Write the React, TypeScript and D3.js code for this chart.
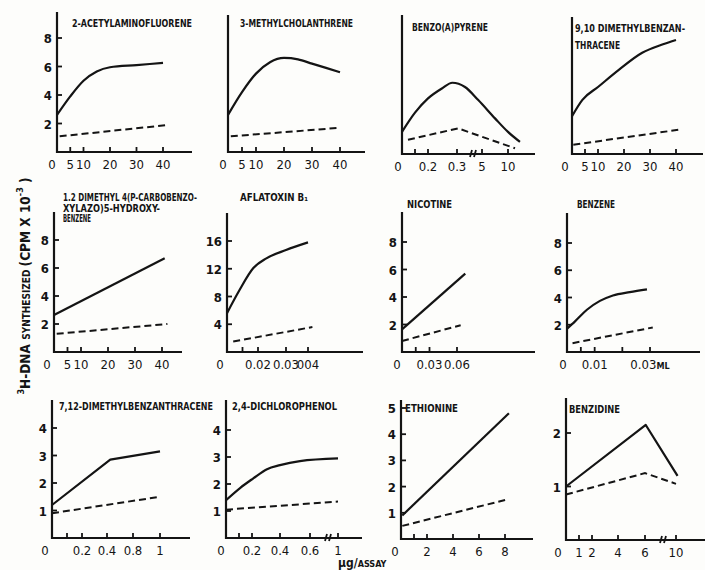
import React from "react";
import * as d3 from "d3";

// ---------- DATA ----------
const panelTitles: string[][] = [
  ["2-ACETYLAMINOFLUORENE"],
  ["3-METHYLCHOLANTHRENE"],
  ["BENZO(A)PYRENE"],
  ["9,10 DIMETHYLBENZAN-", "THRACENE"],
  ["1.2 DIMETHYL 4(P-CARBOBENZO-", "XYLAZO)5-HYDROXY-", "BENZENE"],
  ["AFLATOXIN B₁"],
  ["NICOTINE"],
  ["BENZENE"],
  ["7,12-DIMETHYLBENZANTHRACENE"],
  ["2,4-DICHLOROPHENOL"],
  ["ETHIONINE"],
  ["BENZIDINE"],
];

const aafSolid: [number, number][] = [[0, 2.6], [5, 3.9], [10, 5.0], [15, 5.65], [20, 5.95], [30, 6.1], [40, 6.25]];
const aafDashed: [number, number][] = [[1, 1.1], [42, 1.9]];
const mcSolid: [number, number][] = [[0, 2.6], [5, 4.2], [10, 5.5], [15, 6.3], [20, 6.6], [25, 6.5], [30, 6.2], [40, 5.6]];
const mcDashed: [number, number][] = [[1, 1.1], [40, 1.7]];
const bapSolid: [number, number][] = [[0, 1.55], [0.1, 2.9], [0.2, 3.9], [0.248, 4.6], [0.284, 5.0], [1.8, 4.7], [4.25, 3.8], [7.5, 2.5], [10, 1.55], [12.3, 0.85]];
const bapDashed: [number, number][] = [[0.046, 1.0], [0.49, 1.8], [11.35, 0.4]];
const dmba910Solid: [number, number][] = [[0, 2.65], [4, 3.8], [10, 4.7], [18, 5.9], [27, 7.1], [35, 7.7], [40, 8.0]];
const dmba910Dashed: [number, number][] = [[0.5, 0.65], [41, 1.7]];
const carboSolid: [number, number][] = [[0, 2.65], [41, 6.7]];
const carboDashed: [number, number][] = [[1, 1.3], [42, 2.0]];
const aflaSolid: [number, number][] = [[0, 5.6], [0.008, 8.9], [0.017, 12.1], [0.023, 13.5], [0.03, 14.7], [0.04, 15.8]];
const aflaDashed: [number, number][] = [[0.004, 1.5], [0.042, 3.6]];
const nicSolid: [number, number][] = [[0, 1.65], [0.069, 5.7]];
const nicDashed: [number, number][] = [[0, 0.8], [0.064, 1.95]];
const bzSolid: [number, number][] = [[0, 1.7], [0.0029, 2.25], [0.0072, 3.1], [0.0119, 3.75], [0.0166, 4.15], [0.0227, 4.4], [0.0289, 4.6]];
const bzDashed: [number, number][] = [[0.002, 0.65], [0.031, 1.8]];
const dmba712Solid: [number, number][] = [[0, 1.2], [0.45, 2.85], [1, 3.15]];
const dmba712Dashed: [number, number][] = [[0, 0.9], [1, 1.5]];
const dcpSolid: [number, number][] = [[0, 1.4], [0.108, 1.85], [0.207, 2.2], [0.307, 2.55], [0.4, 2.7], [0.533, 2.85], [1, 2.95]];
const dcpDashed: [number, number][] = [[0, 1.05], [1, 1.35]];
const ethSolid: [number, number][] = [[0.1, 0.9], [8.3, 4.8]];
const ethDashed: [number, number][] = [[0.1, 0.5], [8.1, 1.5]];
const bzdSolid: [number, number][] = [[0, 1.0], [6.1, 2.15], [10.2, 1.2]];
const bzdDashed: [number, number][] = [[0, 0.85], [6, 1.25], [10, 1.05]];

// tick values / labels
const ticks0to40 = [5, 10, 20, 30, 40];
const labels0to40 = ["5", "10", "20", "30", "40"];
const bapTicks = [0.1, 0.2, 0.3, 5, 10];
const bapLabels = ["", "0.2", "0.3", "5", "10"];
const aflaTicks = [0.01, 0.02, 0.03, 0.04];
const aflaLabels = ["", "0.02", "0.03", "004"];
const nicTicks = [0.015, 0.03, 0.06];
const nicLabels = ["", "0.03", "0.06"];
const bzTicks = [0.005, 0.01, 0.02, 0.03];
const bzLabels = ["", "0.01", "", "0.03"];
const dmba712Ticks = [0.1, 0.2, 0.4, 0.8, 1];
const dmba712Labels = ["", "0.2", "0.4", "0.8", "1"];
const dcpTicks = [0.1, 0.2, 0.4, 0.6, 1];
const dcpLabels = ["", "0.2", "0.4", "0.6", "1"];
const ethTicks = [1, 2, 4, 6, 8];
const ethLabels = ["", "2", "4", "6", "8"];
const bzdTicks = [1, 2, 4, 6, 10];
const bzdLabels = ["1", "2", "4", "6", "10"];

const yTicks8 = [2, 4, 6, 8];
const yTicks16 = [4, 8, 12, 16];
const yTicks4 = [1, 2, 3, 4];
const yTicks5 = [1, 2, 3, 4, 5];
const yTicks2 = [1, 2];

// ---------- LAYOUT ----------
type Pt = [number, number];
interface Cfg {
  left: number; top: number; bottom: number; right: number;
  xDomain: number[]; xRange: number[];
  yMax: number; yMaxPx: number;
  xTicks: number[]; xLabels: string[];
  yTicks: number[] | null;
  solid: Pt[]; dashed: Pt[]; smooth: boolean;
  title: string[]; titleX: number; titleY: number[]; titleW: number[];
  zeroDx: number; breakAt?: number; unitTail?: string;
}

const panels: Cfg[] = [
  { left: 57, top: 12, bottom: 152, right: 192, xDomain: [0, 40], xRange: [57, 163], yMax: 8, yMaxPx: 38,
    xTicks: ticks0to40, xLabels: labels0to40, yTicks: yTicks8, solid: aafSolid, dashed: aafDashed, smooth: true,
    title: panelTitles[0], titleX: 72, titleY: [27], titleW: [120], zeroDx: -5 },
  { left: 228, top: 15, bottom: 152, right: 365, xDomain: [0, 40], xRange: [228, 340], yMax: 8, yMaxPx: 38,
    xTicks: ticks0to40, xLabels: labels0to40, yTicks: null, solid: mcSolid, dashed: mcDashed, smooth: true,
    title: panelTitles[1], titleX: 240, titleY: [27], titleW: [113], zeroDx: -5 },
  { left: 402, top: 15, bottom: 154, right: 535, xDomain: [0, 0.2, 0.3, 5, 10], xRange: [402, 428, 457, 482, 508], yMax: 8, yMaxPx: 40,
    xTicks: bapTicks, xLabels: bapLabels, yTicks: null, solid: bapSolid, dashed: bapDashed, smooth: true,
    title: panelTitles[2], titleX: 412, titleY: [31], titleW: [76], zeroDx: -4, breakAt: 473 },
  { left: 572, top: 17, bottom: 154, right: 703, xDomain: [0, 40], xRange: [572, 676], yMax: 8, yMaxPx: 40,
    xTicks: ticks0to40, xLabels: labels0to40, yTicks: null, solid: dmba910Solid, dashed: dmba910Dashed, smooth: true,
    title: panelTitles[3], titleX: 575, titleY: [32, 49], titleW: [110, 45], zeroDx: -7 },
  { left: 54, top: 212, bottom: 352, right: 182, xDomain: [0, 40], xRange: [54, 162], yMax: 8, yMaxPx: 240,
    xTicks: ticks0to40, xLabels: labels0to40, yTicks: yTicks8, solid: carboSolid, dashed: carboDashed, smooth: false,
    title: panelTitles[4], titleX: 63, titleY: [201, 212, 222], titleW: [134, 97, 28], zeroDx: -7 },
  { left: 227, top: 213, bottom: 352, right: 363, xDomain: [0, 0.02, 0.03, 0.04], xRange: [227, 258, 286, 308], yMax: 16, yMaxPx: 241,
    xTicks: aflaTicks, xLabels: aflaLabels, yTicks: yTicks16, solid: aflaSolid, dashed: aflaDashed, smooth: true,
    title: panelTitles[5], titleX: 240, titleY: [201], titleW: [68], zeroDx: -7 },
  { left: 402, top: 212, bottom: 352, right: 535, xDomain: [0, 0.06], xRange: [402, 457], yMax: 8, yMaxPx: 242,
    xTicks: nicTicks, xLabels: nicLabels, yTicks: yTicks8, solid: nicSolid, dashed: nicDashed, smooth: false,
    title: panelTitles[6], titleX: 407, titleY: [208], titleW: [45], zeroDx: -5 },
  { left: 567, top: 213, bottom: 352, right: 700, xDomain: [0, 0.03], xRange: [567, 650], yMax: 8, yMaxPx: 243,
    xTicks: bzTicks, xLabels: bzLabels, yTicks: yTicks8, solid: bzSolid, dashed: bzDashed, smooth: true,
    title: panelTitles[7], titleX: 577, titleY: [208], titleW: [38], zeroDx: -4, unitTail: "ML" },
  { left: 52, top: 400, bottom: 538, right: 190, xDomain: [0, 0.2, 0.4, 0.8, 1], xRange: [52, 82, 107, 133, 160], yMax: 4, yMaxPx: 428,
    xTicks: dmba712Ticks, xLabels: dmba712Labels, yTicks: yTicks4, solid: dmba712Solid, dashed: dmba712Dashed, smooth: false,
    title: panelTitles[8], titleX: 59, titleY: [410], titleW: [154], zeroDx: -7 },
  { left: 226, top: 400, bottom: 538, right: 362, xDomain: [0, 0.2, 0.4, 0.6, 1], xRange: [226, 252, 280, 310, 338], yMax: 4, yMaxPx: 430,
    xTicks: dcpTicks, xLabels: dcpLabels, yTicks: yTicks4, solid: dcpSolid, dashed: dcpDashed, smooth: true,
    title: panelTitles[9], titleX: 232, titleY: [410], titleW: [105], zeroDx: -5, breakAt: 328 },
  { left: 401, top: 400, bottom: 539, right: 533, xDomain: [0, 8], xRange: [401, 505], yMax: 5, yMaxPx: 408,
    xTicks: ethTicks, xLabels: ethLabels, yTicks: yTicks5, solid: ethSolid, dashed: ethDashed, smooth: false,
    title: panelTitles[10], titleX: 405, titleY: [412], titleW: [53], zeroDx: -6 },
  { left: 566, top: 398, bottom: 540, right: 705, xDomain: [0, 1, 2, 4, 6, 10], xRange: [566, 579, 592, 618, 645, 676], yMax: 2, yMaxPx: 433,
    xTicks: bzdTicks, xLabels: bzdLabels, yTicks: yTicks2, solid: bzdSolid, dashed: bzdDashed, smooth: false,
    title: panelTitles[11], titleX: 569, titleY: [413], titleW: [51], zeroDx: -8, breakAt: 663 },
];

const INK = "#141414";
const FONT = "'Liberation Sans Narrow','DejaVu Sans Condensed','Arial Narrow',sans-serif";

function Panel({ c }: { c: Cfg }) {
  const x = d3.scaleLinear().domain(c.xDomain).range(c.xRange);
  const y = d3.scaleLinear().domain([0, c.yMax]).range([c.bottom, c.yMaxPx]);
  const solidLine = d3.line<Pt>().x((d) => x(d[0])).y((d) => y(d[1]))
    .curve(c.smooth ? d3.curveMonotoneX : d3.curveLinear);
  const dashLine = d3.line<Pt>().x((d) => x(d[0])).y((d) => y(d[1])).curve(d3.curveLinear);
  return (
    <g>
      <path d={`M${c.left},${c.top}V${c.bottom}H${c.right}`} fill="none" stroke={INK} strokeWidth={2.2} />
      {c.yTicks && c.yTicks.map((t) => (
        <g key={"y" + t}>
          <line x1={c.left} x2={c.left + 5} y1={y(t)} y2={y(t)} stroke={INK} strokeWidth={1.8} />
          <text x={c.left - 5} y={y(t) + 5} textAnchor="end" fontSize={13} fontWeight="bold" fontFamily={FONT} fill={INK}>{t}</text>
        </g>
      ))}
      {c.xTicks.map((t, i) => (
        <g key={"x" + t}>
          <line x1={x(t)} x2={x(t)} y1={c.bottom} y2={c.bottom - 5} stroke={INK} strokeWidth={1.8} />
          {c.xLabels[i] && (
            <text x={x(t)} y={c.bottom + 17} textAnchor="middle" fontSize={13} fontFamily={FONT} fill={INK}>
              {c.xLabels[i]}
              {c.unitTail && i === c.xTicks.length - 1 && <tspan fontSize={9} fontWeight="bold">{c.unitTail}</tspan>}
            </text>
          )}
        </g>
      ))}
      <text x={c.left + c.zeroDx} y={c.bottom + 17} textAnchor="middle" fontSize={13} fontFamily={FONT} fill={INK}>0</text>
      {c.breakAt !== undefined && (
        <path d={`M${c.breakAt - 3},${c.bottom + 3}L${c.breakAt - 1},${c.bottom - 4}M${c.breakAt + 1},${c.bottom + 3}L${c.breakAt + 3},${c.bottom - 4}`} stroke={INK} strokeWidth={1.8} />
      )}
      <path d={solidLine(c.solid) || ""} fill="none" stroke={INK} strokeWidth={2.2} strokeLinejoin="round" />
      <path d={dashLine(c.dashed) || ""} fill="none" stroke={INK} strokeWidth={2} strokeDasharray="7 4" />
      {c.title.map((t, i) => (
        <text key={i} x={c.titleX} y={c.titleY[i]} fontSize={10} fontWeight="bold" fontFamily={FONT} fill={INK}
          textLength={c.titleW[i]} lengthAdjust="spacingAndGlyphs">{t}</text>
      ))}
    </g>
  );
}

export default function App() {
  return (
    <div style={{ position: "absolute", left: 0, top: 0 }}>
      <svg width={705} height={570} style={{ display: "block", background: "#fdfdfb" }}>
        {panels.map((c, i) => <Panel key={i} c={c} />)}
        <text transform="translate(30,286) rotate(-90)" textAnchor="middle" fontFamily={FONT} fill={INK} fontWeight="bold">
          <tspan fontSize={9} dy={-6}>3</tspan>
          <tspan fontSize={13.5} dy={6}>H-DNA </tspan>
          <tspan fontSize={10}>SYNTHESIZED </tspan>
          <tspan fontSize={13.5}>(CPM X 10</tspan>
          <tspan fontSize={9} dy={-7}>-3</tspan>
          <tspan fontSize={13.5} dy={7}> )</tspan>
        </text>
        <text x={338} y={567} fontFamily={FONT} fill={INK} fontWeight="bold">
          <tspan fontSize={12}>μg/</tspan>
          <tspan fontSize={9}>ASSAY</tspan>
        </text>
      </svg>
    </div>
  );
}
